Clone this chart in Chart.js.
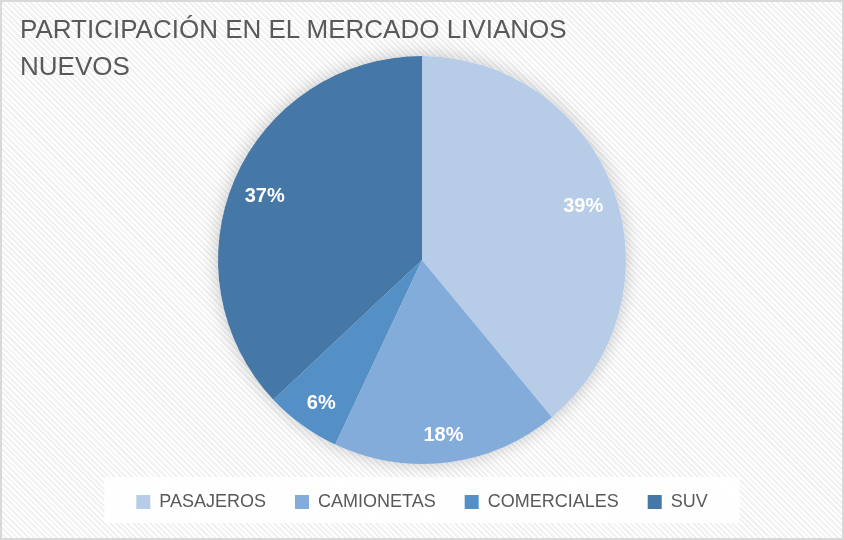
<!DOCTYPE html>
<html>
<head>
<meta charset="utf-8">
<script src="https://cdn.jsdelivr.net/npm/chart.js@4"></script>
<style>
  html, body { margin: 0; padding: 0; background: #fff; }
  #wrap {
    position: relative;
    width: 844px;
    height: 540px;
    box-sizing: border-box;
    border: 2px solid #d9d9d9;
    background: repeating-linear-gradient(45deg, #ffffff 0px, #ffffff 2px, #f1f1f1 2px, #f1f1f1 4px);
  }
  #title {
    position: absolute;
    left: 18px;
    top: 9px;
    font-family: "Liberation Sans", sans-serif;
    font-size: 26px;
    line-height: 37px;
    color: #595959;
    z-index: 2;
  }
  canvas { position: absolute; left: -2px; top: -2px; }
</style>
</head>
<body>
<div id="wrap">
  <div id="title">PARTICIPACIÓN EN EL MERCADO LIVIANOS<br>NUEVOS</div>
  <canvas id="pieChart" width="844" height="540"></canvas>
</div>
<script>
const categories = ['PASAJEROS', 'CAMIONETAS', 'COMERCIALES', 'SUV'];
const shares = [39, 18, 6, 37];
const sliceColors = ['#b7cce7', '#84acdb', '#548fc6', '#4577a7'];

// soft shadow under the whole pie
const pieShadow = {
  id: 'pieShadow',
  beforeDatasetsDraw(chart) {
    const arc = chart.getDatasetMeta(0).data[0];
    if (!arc) return;
    const ctx = chart.ctx;
    ctx.save();
    ctx.shadowColor = 'rgba(0,0,0,0.22)';
    ctx.shadowBlur = 18;
    ctx.fillStyle = '#ffffff';
    ctx.beginPath();
    ctx.arc(arc.x, arc.y, arc.outerRadius, 0, Math.PI * 2);
    ctx.fill();
    ctx.restore();
  }
};

// percentage labels inside slices
const sliceLabels = {
  id: 'sliceLabels',
  afterDatasetsDraw(chart) {
    const ctx = chart.ctx;
    const values = chart.data.datasets[0].data;
    const total = values.reduce((a, b) => a + b, 0);
    ctx.save();
    ctx.font = 'bold 20px "Liberation Sans", sans-serif';
    ctx.fillStyle = '#ffffff';
    ctx.textAlign = 'center';
    ctx.textBaseline = 'middle';
    chart.getDatasetMeta(0).data.forEach((arc, i) => {
      const mid = (arc.startAngle + arc.endAngle) / 2;
      const r = arc.outerRadius * 0.84;
      const pct = Math.round(values[i] / total * 100) + '%';
      ctx.fillText(pct, arc.x + Math.cos(mid) * r, arc.y + Math.sin(mid) * r + 5);
    });
    ctx.restore();
  }
};

// light box behind the legend
const legendBox = {
  id: 'legendBox',
  beforeDraw(chart) {
    const lg = chart.legend;
    if (!lg || !lg.legendHitBoxes || !lg.legendHitBoxes.length) return;
    const boxes = lg.legendHitBoxes;
    const left = Math.min(...boxes.map(b => b.left)) - 32;
    const right = Math.max(...boxes.map(b => b.left + b.width)) + 32;
    const top = Math.min(...boxes.map(b => b.top)) - 16;
    const bottom = Math.max(...boxes.map(b => b.top + b.height)) + 12;
    const ctx = chart.ctx;
    ctx.save();
    ctx.fillStyle = 'rgba(255,255,255,0.88)';
    ctx.fillRect(left, top, right - left, bottom - top);
    ctx.restore();
  }
};

new Chart(document.getElementById('pieChart').getContext('2d'), {
  type: 'pie',
  data: {
    labels: categories,
    datasets: [{
      data: shares,
      backgroundColor: sliceColors,
      borderWidth: 0
    }]
  },
  options: {
    responsive: false,
    animation: false,
    layout: { padding: { top: 56, bottom: 19 } },
    plugins: {
      tooltip: { enabled: false },
      legend: {
        position: 'bottom',
        labels: {
          boxWidth: 14,
          boxHeight: 14,
          padding: 29,
          color: '#595959',
          font: { family: '"Liberation Sans", sans-serif', size: 18 }
        }
      }
    }
  },
  plugins: [pieShadow, sliceLabels, legendBox]
});
</script>
</body>
</html>
